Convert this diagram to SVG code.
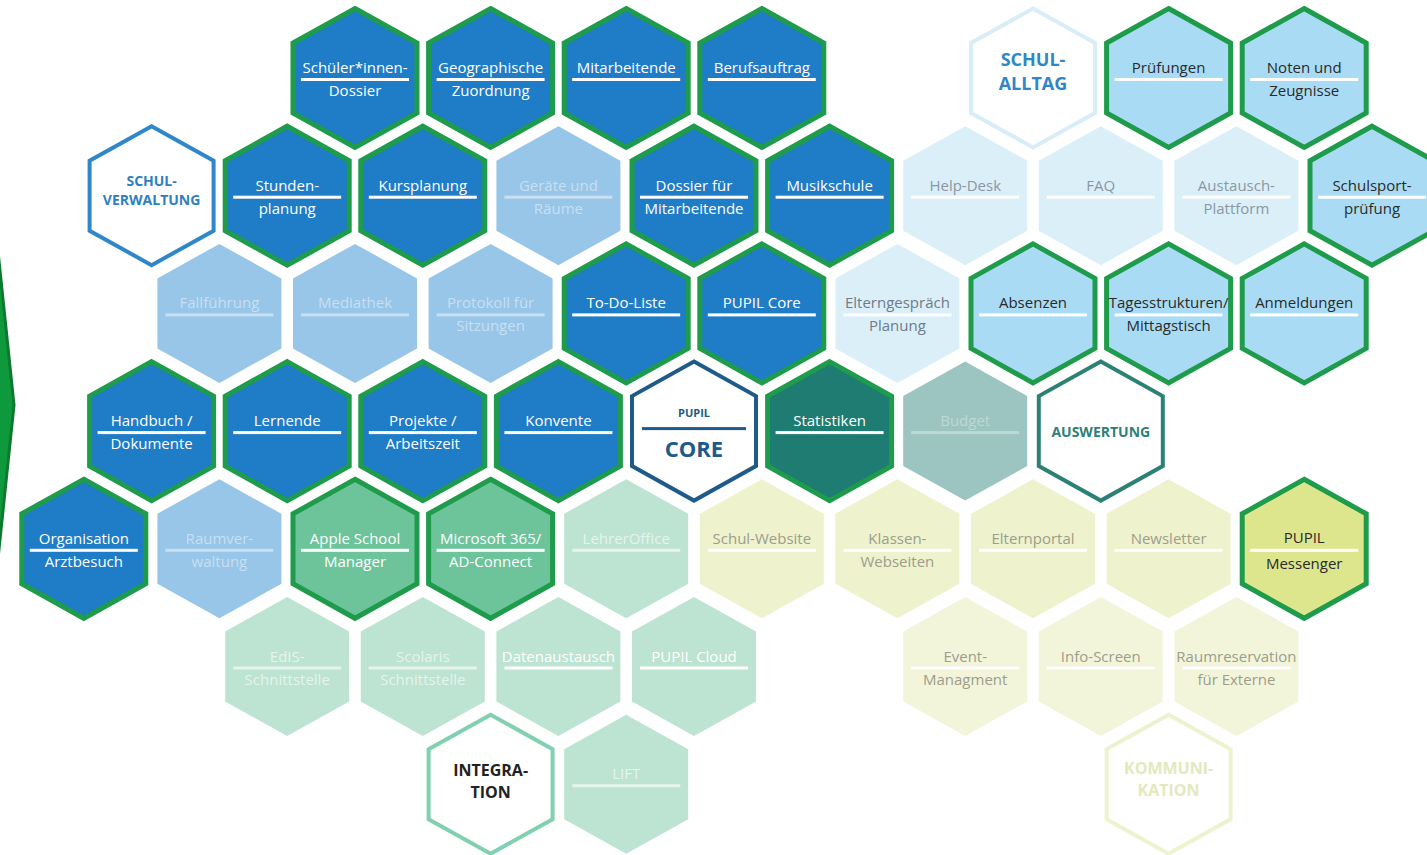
<svg xmlns="http://www.w3.org/2000/svg" xmlns:xlink="http://www.w3.org/1999/xlink" width="1427" height="855" viewBox="0 0 1427 855">
<defs>
<polygon id="hx" points="0,-69.5 62,-35 62,35 0,69.5 -62,35 -62,-35"/>
</defs>
<style>
use{stroke-linejoin:miter}
.dk{fill:#1f7cc7;stroke:#1e9b4b;stroke-width:5}
.dis{fill:#97c6e8}
.vl{fill:#dbeff9}
.al{fill:#a9dcf4;stroke:#1e9b4b;stroke-width:5}
.st{fill:#1e7c72;stroke:#1e9b4b;stroke-width:5}
.bu{fill:#9cc5c1}
.gm{fill:#6dc49b;stroke:#1e9b4b;stroke-width:5}
.lg{fill:#bde3d2}
.yl{fill:#eef2cd}
.yl2{fill:#f2f5da}
.ms{fill:#dde68c;stroke:#1e9b4b;stroke-width:5}
.cv{fill:#fff;stroke:#2f87c9;stroke-width:4}
.ca{fill:#fff;stroke:#d9edf9;stroke-width:4}
.cc{fill:#fff;stroke:#1e5a8a;stroke-width:4}
.cw{fill:#fff;stroke:#2c8177;stroke-width:4}
.ci{fill:#fff;stroke:#80d0b1;stroke-width:4}
.ck{fill:#fff;stroke:#eef2cf;stroke-width:4}
text{font-family:"Open Sans","Liberation Sans",sans-serif;text-anchor:middle}
.t{font-size:15px}
.b{font-weight:700}
.w{fill:#fff}
.fd{fill:#c9dff2}
.fg{fill:#8a97a2}
.fk{fill:#2a2a2a}
.fb{fill:#bcd9d6}
.fl{fill:#e6f4ed}
.fy{fill:#9d9d8c}
</style>
<g id="edge-hex"><polygon points="-4,232 14,405 -4,578" fill="#0e9a3c" stroke="#0b7a2e" stroke-width="3"/></g>
<g id="connectors"/>

<!-- Row 0 -->
<g id="schueler-dossier" transform="translate(355,78)"><use href="#hx" class="dk"/><text class="t w" y="-5">Schüler*innen-</text><rect class="w" x="-54" y="0" width="108" height="3"/><text class="t w" y="18">Dossier</text></g>
<g id="geographische-zuordnung" transform="translate(490.6,78)"><use href="#hx" class="dk"/><text class="t w" y="-5">Geographische</text><rect class="w" x="-54" y="0" width="108" height="3"/><text class="t w" y="18">Zuordnung</text></g>
<g id="mitarbeitende" transform="translate(626.2,78)"><use href="#hx" class="dk"/><text class="t w" y="-5">Mitarbeitende</text><rect class="w" x="-54" y="0" width="108" height="3"/></g>
<g id="berufsauftrag" transform="translate(761.8,78)"><use href="#hx" class="dk"/><text class="t w" y="-5">Berufsauftrag</text><rect class="w" x="-54" y="0" width="108" height="3"/></g>
<g id="schul-alltag" transform="translate(1033,78)"><use href="#hx" class="ca"/><text class="b" font-size="18" fill="#2f86c9" y="-12">SCHUL-</text><text class="b" font-size="18" fill="#2f86c9" y="12">ALLTAG</text></g>
<g id="pruefungen" transform="translate(1168.6,78)"><use href="#hx" class="al"/><text class="t fk" y="-5">Prüfungen</text><rect class="w" x="-54" y="0" width="108" height="3"/></g>
<g id="noten-zeugnisse" transform="translate(1304.2,78)"><use href="#hx" class="al"/><text class="t fk" y="-5">Noten und</text><rect class="w" x="-54" y="0" width="108" height="3"/><text class="t fk" y="18">Zeugnisse</text></g>

<!-- Row 1 -->
<g id="schul-verwaltung" transform="translate(151.6,195.7)"><use href="#hx" class="cv"/><text class="b" font-size="14" fill="#2f80c0" y="-10">SCHUL-</text><text class="b" font-size="14" fill="#2f80c0" y="9">VERWALTUNG</text></g>
<g id="stundenplanung" transform="translate(287.2,195.7)"><use href="#hx" class="dk"/><text class="t w" y="-5">Stunden-</text><rect class="w" x="-54" y="0" width="108" height="3"/><text class="t w" y="18">planung</text></g>
<g id="kursplanung" transform="translate(422.8,195.7)"><use href="#hx" class="dk"/><text class="t w" y="-5">Kursplanung</text><rect class="w" x="-54" y="0" width="108" height="3"/></g>
<g id="geraete-raeume" transform="translate(558.4,195.7)"><use href="#hx" class="dis"/><text class="t fd" y="-5">Geräte und</text><rect class="fd" x="-54" y="0" width="108" height="3"/><text class="t fd" y="18">Räume</text></g>
<g id="dossier-mitarbeitende" transform="translate(694,195.7)"><use href="#hx" class="dk"/><text class="t w" y="-5">Dossier für</text><rect class="w" x="-54" y="0" width="108" height="3"/><text class="t w" y="18">Mitarbeitende</text></g>
<g id="musikschule" transform="translate(829.6,195.7)"><use href="#hx" class="dk"/><text class="t w" y="-5">Musikschule</text><rect class="w" x="-54" y="0" width="108" height="3"/></g>
<g id="help-desk" transform="translate(965.2,195.7)"><use href="#hx" class="vl"/><text class="t fg" y="-5">Help-Desk</text><rect class="w" x="-54" y="0" width="108" height="3"/></g>
<g id="faq" transform="translate(1100.8,195.7)"><use href="#hx" class="vl"/><text class="t fg" y="-5">FAQ</text><rect class="w" x="-54" y="0" width="108" height="3"/></g>
<g id="austausch-plattform" transform="translate(1236.4,195.7)"><use href="#hx" class="vl"/><text class="t fg" y="-5">Austausch-</text><rect class="w" x="-54" y="0" width="108" height="3"/><text class="t fg" y="18">Plattform</text></g>
<g id="schulsportpruefung" transform="translate(1372,195.7)"><use href="#hx" class="al"/><text class="t fk" y="-5">Schulsport-</text><rect class="w" x="-54" y="0" width="108" height="3"/><text class="t fk" y="18">prüfung</text></g>

<!-- Row 2 -->
<g id="fallfuehrung" transform="translate(219.4,313.4)"><use href="#hx" class="dis"/><text class="t fd" y="-5">Fallführung</text><rect class="fd" x="-54" y="0" width="108" height="3"/></g>
<g id="mediathek" transform="translate(355,313.4)"><use href="#hx" class="dis"/><text class="t fd" y="-5">Mediathek</text><rect class="fd" x="-54" y="0" width="108" height="3"/></g>
<g id="protokoll-sitzungen" transform="translate(490.6,313.4)"><use href="#hx" class="dis"/><text class="t fd" y="-5">Protokoll für</text><rect class="fd" x="-54" y="0" width="108" height="3"/><text class="t fd" y="18">Sitzungen</text></g>
<g id="to-do-liste" transform="translate(626.2,313.4)"><use href="#hx" class="dk"/><text class="t w" y="-5">To-Do-Liste</text><rect class="w" x="-54" y="0" width="108" height="3"/></g>
<g id="pupil-core-modul" transform="translate(761.8,313.4)"><use href="#hx" class="dk"/><text class="t w" y="-5">PUPIL Core</text><rect class="w" x="-54" y="0" width="108" height="3"/></g>
<g id="elterngespraech" transform="translate(897.4,313.4)"><use href="#hx" class="vl"/><text class="t" fill="#6f7b86" y="-5">Elterngespräch</text><rect class="w" x="-54" y="0" width="108" height="3"/><text class="t" fill="#6f7b86" y="18">Planung</text></g>
<g id="absenzen" transform="translate(1033,313.4)"><use href="#hx" class="al"/><text class="t fk" y="-5">Absenzen</text><rect class="w" x="-54" y="0" width="108" height="3"/></g>
<g id="tagesstrukturen" transform="translate(1168.6,313.4)"><use href="#hx" class="al"/><text class="t fk" y="-5">Tagesstrukturen/</text><rect class="w" x="-54" y="0" width="108" height="3"/><text class="t fk" y="18">Mittagstisch</text></g>
<g id="anmeldungen" transform="translate(1304.2,313.4)"><use href="#hx" class="al"/><text class="t fk" y="-5">Anmeldungen</text><rect class="w" x="-54" y="0" width="108" height="3"/></g>

<!-- Row 3 -->
<g id="handbuch-dokumente" transform="translate(151.6,431.1)"><use href="#hx" class="dk"/><text class="t w" y="-5">Handbuch /</text><rect class="w" x="-54" y="0" width="108" height="3"/><text class="t w" y="18">Dokumente</text></g>
<g id="lernende" transform="translate(287.2,431.1)"><use href="#hx" class="dk"/><text class="t w" y="-5">Lernende</text><rect class="w" x="-54" y="0" width="108" height="3"/></g>
<g id="projekte-arbeitszeit" transform="translate(422.8,431.1)"><use href="#hx" class="dk"/><text class="t w" y="-5">Projekte /</text><rect class="w" x="-54" y="0" width="108" height="3"/><text class="t w" y="18">Arbeitszeit</text></g>
<g id="konvente" transform="translate(558.4,431.1)"><use href="#hx" class="dk"/><text class="t w" y="-5">Konvente</text><rect class="w" x="-54" y="0" width="108" height="3"/></g>
<g id="pupil-core" transform="translate(694,431.1)"><use href="#hx" class="cc"/><text class="b" font-size="11" fill="#1e5a8a" y="-14">PUPIL</text><rect fill="#1e5a8a" x="-52" y="-4" width="104" height="3"/><text class="b" font-size="22" fill="#1e5a8a" y="26">CORE</text></g>
<g id="statistiken" transform="translate(829.6,431.1)"><use href="#hx" class="st"/><text class="t w" y="-5">Statistiken</text><rect class="w" x="-54" y="0" width="108" height="3"/></g>
<g id="budget" transform="translate(965.2,431.1)"><use href="#hx" class="bu"/><text class="t fb" y="-5">Budget</text><rect class="fb" x="-54" y="0" width="108" height="3"/></g>
<g id="auswertung" transform="translate(1100.8,431.1)"><use href="#hx" class="cw"/><text class="b" font-size="14" fill="#2c8177" y="6">AUSWERTUNG</text></g>

<!-- Row 4 -->
<g id="organisation-arztbesuch" transform="translate(83.8,548.8)"><use href="#hx" class="dk"/><text class="t w" y="-5">Organisation</text><rect class="w" x="-54" y="0" width="108" height="3"/><text class="t w" y="18">Arztbesuch</text></g>
<g id="raumverwaltung" transform="translate(219.4,548.8)"><use href="#hx" class="dis"/><text class="t fd" y="-5">Raumver-</text><rect class="fd" x="-54" y="0" width="108" height="3"/><text class="t fd" y="18">waltung</text></g>
<g id="apple-school-manager" transform="translate(355,548.8)"><use href="#hx" class="gm"/><text class="t w" y="-5">Apple School</text><rect class="w" x="-54" y="0" width="108" height="3"/><text class="t w" y="18">Manager</text></g>
<g id="microsoft-365" transform="translate(490.6,548.8)"><use href="#hx" class="gm"/><text class="t w" y="-5">Microsoft 365/</text><rect class="w" x="-54" y="0" width="108" height="3"/><text class="t w" y="18">AD-Connect</text></g>
<g id="lehreroffice" transform="translate(626.2,548.8)"><use href="#hx" class="lg"/><text class="t fl" y="-5">LehrerOffice</text><rect class="fl" x="-54" y="0" width="108" height="3"/></g>
<g id="schul-website" transform="translate(761.8,548.8)"><use href="#hx" class="yl"/><text class="t fy" y="-5">Schul-Website</text><rect class="w" x="-54" y="0" width="108" height="3"/></g>
<g id="klassen-webseiten" transform="translate(897.4,548.8)"><use href="#hx" class="yl"/><text class="t fy" y="-5">Klassen-</text><rect class="w" x="-54" y="0" width="108" height="3"/><text class="t fy" y="18">Webseiten</text></g>
<g id="elternportal" transform="translate(1033,548.8)"><use href="#hx" class="yl"/><text class="t fy" y="-5">Elternportal</text><rect class="w" x="-54" y="0" width="108" height="3"/></g>
<g id="newsletter" transform="translate(1168.6,548.8)"><use href="#hx" class="yl"/><text class="t fy" y="-5">Newsletter</text><rect class="w" x="-54" y="0" width="108" height="3"/></g>
<g id="pupil-messenger" transform="translate(1304.2,548.8)"><use href="#hx" class="ms"/><text class="t fk" y="-6">PUPIL</text><rect class="w" x="-54" y="0" width="108" height="3"/><text class="t fk" y="20">Messenger</text></g>

<!-- Row 5 -->
<g id="edis-schnittstelle" transform="translate(287.2,666.5)"><use href="#hx" class="lg"/><text class="t fl" y="-5">EdIS-</text><rect class="fl" x="-54" y="0" width="108" height="3"/><text class="t fl" y="18">Schnittstelle</text></g>
<g id="scolaris-schnittstelle" transform="translate(422.8,666.5)"><use href="#hx" class="lg"/><text class="t fl" y="-5">Scolaris</text><rect class="fl" x="-54" y="0" width="108" height="3"/><text class="t fl" y="18">Schnittstelle</text></g>
<g id="datenaustausch" transform="translate(558.4,666.5)"><use href="#hx" class="lg"/><text class="t w" y="-5">Datenaustausch</text><rect class="w" x="-54" y="0" width="108" height="3"/></g>
<g id="pupil-cloud" transform="translate(694,666.5)"><use href="#hx" class="lg"/><text class="t w" y="-5">PUPIL Cloud</text><rect class="w" x="-54" y="0" width="108" height="3"/></g>
<g id="event-managment" transform="translate(965.2,666.5)"><use href="#hx" class="yl2"/><text class="t fy" y="-5">Event-</text><rect class="w" x="-54" y="0" width="108" height="3"/><text class="t fy" y="18">Managment</text></g>
<g id="info-screen" transform="translate(1100.8,666.5)"><use href="#hx" class="yl2"/><text class="t fy" y="-5">Info-Screen</text><rect class="w" x="-54" y="0" width="108" height="3"/></g>
<g id="raumreservation" transform="translate(1236.4,666.5)"><use href="#hx" class="yl2"/><text class="t fy" font-size="14" y="-5">Raumreservation</text><rect class="w" x="-54" y="0" width="108" height="3"/><text class="t fy" y="18">für Externe</text></g>

<!-- Row 6 -->
<g id="integration" transform="translate(490.6,784.2)"><use href="#hx" class="ci"/><text class="b" font-size="16" fill="#222" y="-8">INTEGRA-</text><text class="b" font-size="16" fill="#222" y="14">TION</text></g>
<g id="lift" transform="translate(626.2,784.2)"><use href="#hx" class="lg"/><text class="t fl" y="-5">LIFT</text><rect class="fl" x="-54" y="0" width="108" height="3"/></g>
<g id="kommunikation" transform="translate(1168.6,784.2)"><use href="#hx" class="ck"/><text class="b" font-size="16" fill="#e4e9bd" y="-10">KOMMUNI-</text><text class="b" font-size="16" fill="#e4e9bd" y="12">KATION</text></g>
</svg>
